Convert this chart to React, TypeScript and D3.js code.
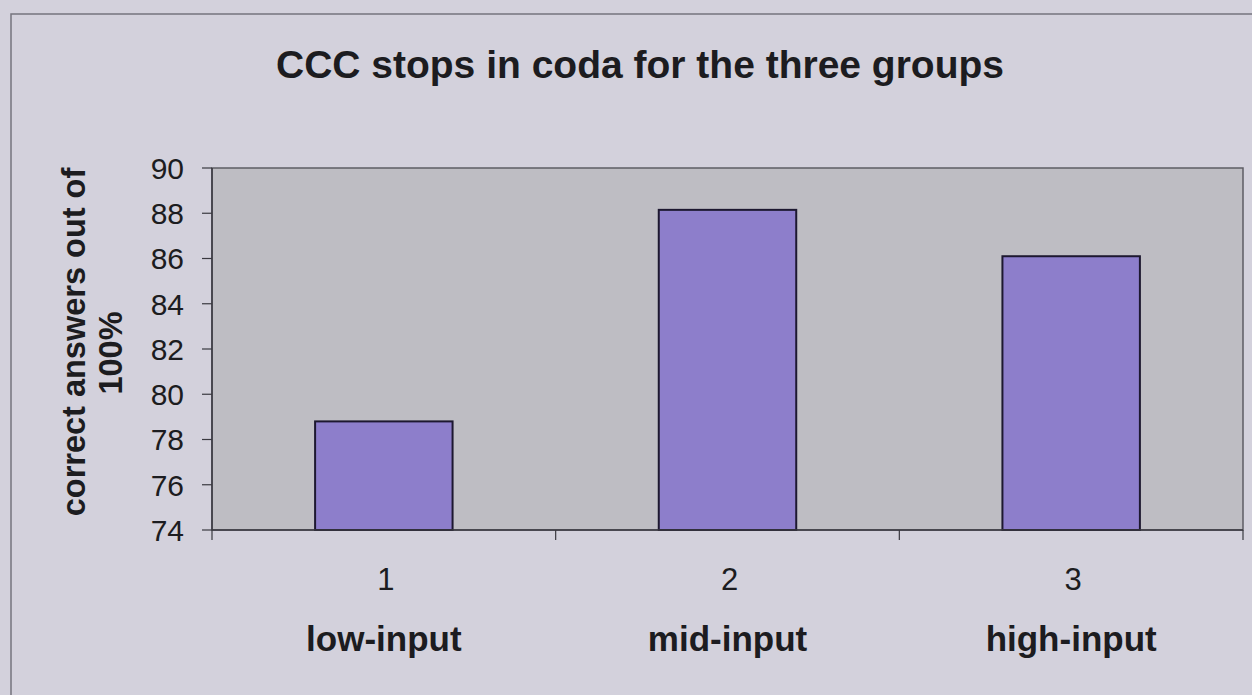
import React from "react";
import * as d3 from "d3";

const categories = ["1", "2", "3"];
const groupLabels = ["low-input", "mid-input", "high-input"];
const values = [78.8, 88.15, 86.1];
const yTicks = [74, 76, 78, 80, 82, 84, 86, 88, 90];
const title = "CCC stops in coda for the three groups";
const yTitle = ["correct answers out of", "100%"];

const W = 1252;
const H = 695;
const M = { left: 212, right: 1243, top: 168, bottom: 530 };
const FONT = "'Liberation Sans', Arial, Helvetica, sans-serif";

export default function App() {
  const x = d3
    .scaleBand<string>()
    .domain(categories)
    .range([M.left, M.right])
    .padding(0);
  const y = d3.scaleLinear().domain([74, 90]).range([M.bottom, M.top]);
  const bw = x.bandwidth() * 0.4;
  const boundaries = [M.left, ...categories.map((c) => (x(c) as number) + x.bandwidth())];

  return (
    <svg
      width={W}
      height={H}
      viewBox={`0 0 ${W} ${H}`}
      style={{ position: "absolute", left: 0, top: 0, display: "block" }}
    >
      <rect x={0} y={0} width={W} height={H} fill="#d3d1dc" />
      {/* outer chart border */}
      <path d={`M11,${H + 5} L11,14 L${W + 5},14`} fill="none" stroke="#76747e" strokeWidth={1.5} />

      <text
        x={640}
        y={78}
        textAnchor="middle"
        fontFamily={FONT}
        fontWeight="bold"
        fontSize={39}
        fill="#1c1c20"
      >
        {title}
      </text>

      {/* plot area */}
      <rect
        x={M.left}
        y={M.top}
        width={M.right - M.left}
        height={M.bottom - M.top}
        fill="#bebdc3"
        stroke="#5e5d64"
        strokeWidth={1.5}
      />

      {/* bars */}
      {categories.map((c, i) => {
        const cx = (x(c) as number) + x.bandwidth() / 2;
        return (
          <rect
            key={c}
            x={cx - bw / 2}
            y={y(values[i])}
            width={bw}
            height={y(74) - y(values[i])}
            fill="#8d7ecb"
            stroke="#1d1830"
            strokeWidth={2}
          />
        );
      })}

      {/* axes */}
      <line x1={M.left} y1={M.top} x2={M.left} y2={M.bottom} stroke="#3a3940" strokeWidth={1.5} />
      <line x1={M.left} y1={M.bottom} x2={M.right} y2={M.bottom} stroke="#3a3940" strokeWidth={1.5} />
      {yTicks.map((t) => (
        <g key={t}>
          <line x1={M.left - 10} x2={M.left} y1={y(t)} y2={y(t)} stroke="#3a3940" strokeWidth={1.2} />
          <text
            x={184}
            y={y(t)}
            dy="0.36em"
            textAnchor="end"
            fontFamily={FONT}
            fontSize={30}
            fill="#1c1c20"
          >
            {t}
          </text>
        </g>
      ))}
      {boundaries.map((b, i) => (
        <line key={i} x1={b} x2={b} y1={M.bottom} y2={M.bottom + 10} stroke="#3a3940" strokeWidth={1.2} />
      ))}
      {categories.map((c, i) => {
        const cx = (x(c) as number) + x.bandwidth() / 2;
        return (
          <g key={c}>
            <text x={cx + 2} y={590} textAnchor="middle" fontFamily={FONT} fontSize={31} fill="#1c1c20">
              {c}
            </text>
            <text
              x={cx}
              y={651}
              textAnchor="middle"
              fontFamily={FONT}
              fontWeight="bold"
              fontSize={35}
              fill="#1c1c20"
            >
              {groupLabels[i]}
            </text>
          </g>
        );
      })}

      {/* y axis title */}
      <text
        transform={`translate(85,342) rotate(-90)`}
        textAnchor="middle"
        fontFamily={FONT}
        fontWeight="bold"
        fontSize={32.5}
        fill="#1c1c20"
      >
        {yTitle[0]}
      </text>
      <text
        transform={`translate(122,353) rotate(-90)`}
        textAnchor="middle"
        fontFamily={FONT}
        fontWeight="bold"
        fontSize={32.5}
        fill="#1c1c20"
      >
        {yTitle[1]}
      </text>
    </svg>
  );
}
